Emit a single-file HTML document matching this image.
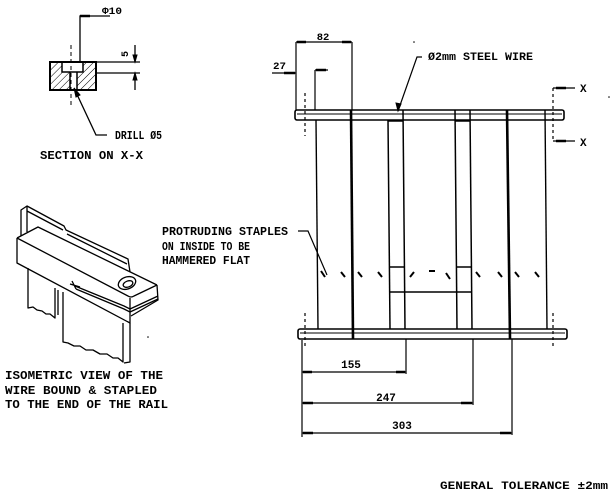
<!DOCTYPE html>
<html><head><meta charset="utf-8"><style>
html,body{margin:0;padding:0;background:#fff;}
svg{display:block}
text{font-family:"Liberation Mono","DejaVu Sans Mono",monospace;font-weight:bold;fill:#000;}
</style></head><body>
<svg width="611" height="492" viewBox="0 0 611 492" xmlns="http://www.w3.org/2000/svg">
<defs>
<pattern id="h" width="5" height="5" patternUnits="userSpaceOnUse" patternTransform="rotate(45)">
<line x1="0" y1="0" x2="0" y2="5" stroke="#000" stroke-width="1"/>
</pattern>
</defs>

<!-- SECTION X-X -->
<g stroke="#000" fill="none">
<path d="M50,62 H62 V72 H70 V90 H50 Z" fill="url(#h)" stroke="none"/>
<path d="M83,62 H96 V90 H77 V72 H83 Z" fill="url(#h)" stroke="none"/>
<rect x="50" y="62" width="46" height="28" stroke-width="2"/>
<path d="M62,62 V72 H83 V62" stroke-width="1.5"/>
<path d="M70,72 V90 M77,72 V90" stroke-width="1.5"/>
<line x1="71" y1="45" x2="71" y2="108" stroke-width="1" stroke-dasharray="4,3"/>
<path d="M80,62 V16 H110" stroke-width="1.3"/>
<line x1="80" y1="16" x2="90" y2="16" stroke-width="2.5"/>
<path d="M96,62 H140 M96,73 H140" stroke-width="1.3"/>
<path d="M135,45 V62 M135,73 V90" stroke-width="1.3"/>
<path d="M133,55 L135,62 L137,55 Z M133,80 L135,73 L137,80 Z" fill="#000"/>
<path d="M74,88 L96,135 H107" stroke-width="1.3"/>
<path d="M74,88 L76,97 L80,95 Z" fill="#000"/>
</g>
<text x="102" y="14" font-size="10" textLength="20" lengthAdjust="spacingAndGlyphs">Φ10</text>
<text x="0" y="0" font-size="10" text-anchor="middle" transform="translate(128,54) rotate(-90)">5</text>
<text x="115" y="139" font-size="11.5" textLength="47" lengthAdjust="spacingAndGlyphs">DRILL Ø5</text>
<text x="40" y="159" font-size="11.5" textLength="103" lengthAdjust="spacingAndGlyphs">SECTION ON X-X</text>

<!-- ISOMETRIC -->
<g stroke="#000" fill="none" stroke-width="1.3" stroke-linejoin="round">
<path d="M21,236 V210 L27,206 L64,226 L66,230 L128,259 L130,272"/>
<path d="M27,206 V232 M27,211 L63,230 M67,234 L127,264"/>
<path d="M17,238 L38,227 L157,285"/>
<path d="M17,238 L128,296 Q131,298 134,296 L157,285"/>
<path d="M17,238 V263 L130,323 V298"/>
<path d="M157,285 L158,300 L131,316"/>
<path d="M75,286 L124,306 L130,309 L158,296"/>
<path d="M76,289 L124,309 L130,312 L158,299"/>
<path d="M70,284 L80,287 M72,281 L76,289"/>
<ellipse cx="127" cy="283" rx="9" ry="6" transform="rotate(-20 127 283)"/>
<ellipse cx="128" cy="284" rx="5" ry="3" transform="rotate(-20 128 284)"/>
<path d="M28,268 V308 L33,307 L37,310 L42,311 L46,314 L50,314 L55,318 V288"/>
<path d="M58,290 V315"/>
<path d="M63,292 V342 L68,343 L74,346 L80,346 L86,350 L93,350 L100,354 L107,354 L113,358 L118,358 L123,362 V323"/>
<path d="M130,323 V362 L124,363"/>
</g>
<circle cx="148" cy="337" r="0.8" fill="#000"/>
<text x="5" y="379" font-size="12" textLength="158" lengthAdjust="spacingAndGlyphs">ISOMETRIC VIEW OF THE</text>
<text x="5" y="394" font-size="12" textLength="152" lengthAdjust="spacingAndGlyphs">WIRE BOUND &amp; STAPLED</text>
<text x="5" y="408" font-size="12" textLength="163" lengthAdjust="spacingAndGlyphs">TO THE END OF THE RAIL</text>

<text x="162" y="235" font-size="11.5" textLength="126" lengthAdjust="spacingAndGlyphs">PROTRUDING STAPLES</text>
<text x="162" y="250" font-size="11.5" textLength="88" lengthAdjust="spacingAndGlyphs">ON INSIDE TO BE</text>
<text x="162" y="264" font-size="11.5" textLength="88" lengthAdjust="spacingAndGlyphs">HAMMERED FLAT</text>

<!-- MAIN VIEW -->
<g stroke="#000" fill="none">
<!-- rails -->
<rect x="295" y="110" width="269" height="10" rx="2" stroke-width="1.6"/>
<line x1="297" y1="114" x2="562" y2="114" stroke-width="1"/>
<rect x="298" y="329" width="269" height="10" rx="2" stroke-width="1.6"/>
<line x1="300" y1="333" x2="565" y2="333" stroke-width="1"/>
<!-- verticals -->
<line x1="316" y1="120" x2="318" y2="329" stroke-width="1.4"/>
<line x1="351" y1="110" x2="353" y2="339" stroke-width="2.6"/>
<line x1="388" y1="120" x2="390" y2="329" stroke-width="1.5"/>
<line x1="403" y1="110" x2="405" y2="329" stroke-width="1.5"/>
<line x1="455" y1="110" x2="457" y2="329" stroke-width="1.5"/>
<line x1="470" y1="110" x2="472" y2="329" stroke-width="1.5"/>
<line x1="507" y1="110" x2="510" y2="339" stroke-width="2.6"/>
<line x1="545" y1="110" x2="547" y2="329" stroke-width="1.4"/>
<path d="M388,121 H403 M455,121 H470" stroke-width="1.5"/>
<path d="M390,267 H405 M457,267 H472 M390,292 H472" stroke-width="1.6"/>
<!-- dashed center lines -->
<path d="M305,93 V136 M305,313 V346 M553,88 V142 M553,313 V346" stroke-width="1.2" stroke-dasharray="3,3"/>
<!-- staples -->
<g stroke-width="2">
<path d="M321,271 L325,277 M341,272 L345,277 M358,272 L362,277 M378,272 L382,277"/>
<path d="M410,277 L414,272 M429,271 L435,271 M446,273 L450,279"/>
<path d="M476,272 L480,277 M498,272 L502,277 M515,272 L519,277 M535,272 L539,277"/>
</g>
<!-- leader protruding -->
<path d="M298,231 H308 L327,275" stroke-width="1.2"/>
<!-- wire leader -->
<path d="M422,57 H417 L398,111" stroke-width="1.2"/>
<path d="M396,103 L398,111 L401,104 Z" fill="#000" stroke-width="1"/>
<!-- dim 82 -->
<path d="M296,42 V110 M352,42 V110 M296,42 H352" stroke-width="1.2"/>
<path d="M297,42 H306 M342,42 H351" stroke-width="2.5"/>
<!-- dim 27 -->
<path d="M272,73 H296" stroke-width="1.2"/>
<path d="M284,73 H295" stroke-width="2.5"/>
<path d="M315,70 V110 M315,70 H328" stroke-width="1.2"/>
<path d="M316,70 H326" stroke-width="2.5"/>
<!-- X section marks -->
<path d="M553,88 H575 M553,141 H575" stroke-width="1.2"/>
<path d="M556,88 H566 M556,141 H566" stroke-width="2.5"/>
<!-- bottom dims -->
<path d="M302,340 V437 M406,339 V374 M473,339 V405 M512,339 V435" stroke-width="1.2"/>
<path d="M302,372 H406 M302,403 H473 M302,433 H512" stroke-width="1.2"/>
<path d="M303,372 H312 M396,372 H405 M303,403 H313 M461,403 H472 M303,433 H313 M500,433 H511" stroke-width="2.5"/>
</g>
<circle cx="414" cy="42" r="0.8" fill="#000"/>
<circle cx="609" cy="97" r="0.8" fill="#000"/>
<text x="428" y="60" font-size="11" textLength="105" lengthAdjust="spacingAndGlyphs">Ø2mm STEEL WIRE</text>
<text x="323" y="40" font-size="10.5" text-anchor="middle">82</text>
<text x="273" y="69" font-size="10.5" textLength="13" lengthAdjust="spacingAndGlyphs">27</text>
<text x="580" y="92" font-size="11">X</text>
<text x="580" y="146" font-size="11">X</text>
<text x="351" y="368" font-size="11" text-anchor="middle">155</text>
<text x="386" y="401" font-size="11" text-anchor="middle">247</text>
<text x="402" y="429" font-size="11" text-anchor="middle">303</text>
<text x="440" y="489" font-size="11" textLength="168" lengthAdjust="spacingAndGlyphs">GENERAL TOLERANCE ±2mm</text>
</svg>
</body></html>
